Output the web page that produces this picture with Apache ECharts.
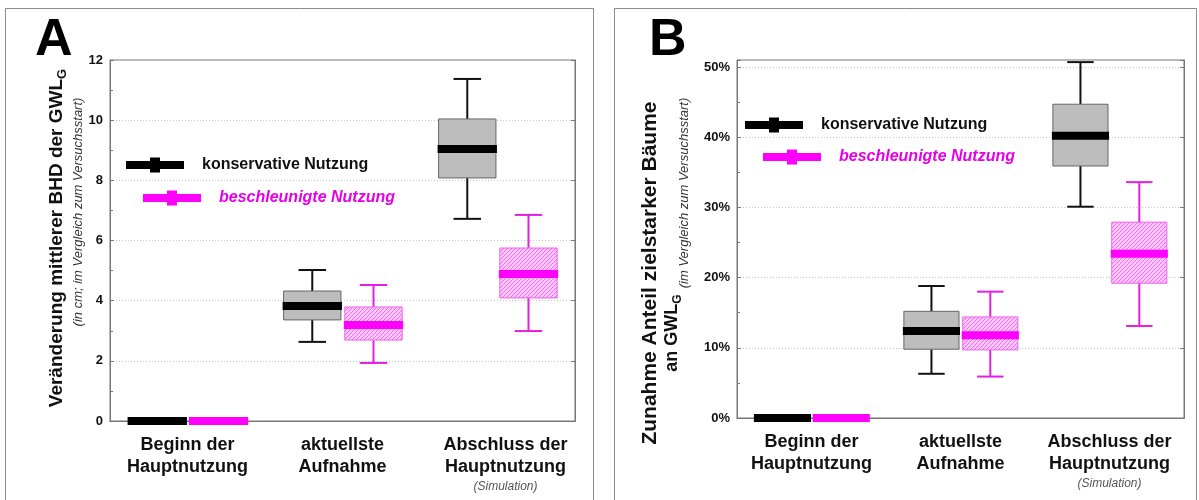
<!DOCTYPE html>
<html><head><meta charset="utf-8">
<script src="https://cdn.jsdelivr.net/npm/echarts@6/dist/echarts.min.js"></script>
<style>html,body{margin:0;padding:0;background:#fff}#c{width:1199px;height:500px}</style>
</head><body><div id="c"></div>
<script>
// ---------- data ----------
const categories = ['Beginn der\nHauptnutzung', 'aktuellste\nAufnahme', 'Abschluss der\nHauptnutzung\n{sim|(Simulation)}'];
const seriesNames = ['konservative Nutzung', 'beschleunigte Nutzung'];
// each entry: [min, Q1, median, Q3, max]
const bhdKonservativ   = [[0,0,0,0,0],[2.63,3.36,3.82,4.32,5.02],[6.72,8.08,9.04,10.04,11.37]];
const bhdBeschleunigt  = [[0,0,0,0,0],[1.93,2.69,3.19,3.79,4.52],[2.99,4.09,4.89,5.75,6.85]];
const anteilKonservativ  = [[0,0,0,0,0],[6.3,9.8,12.4,15.2,18.8],[30.1,35.9,40.2,44.7,50.7]];
const anteilBeschleunigt = [[0,0,0,0,0],[5.9,9.7,11.8,14.4,18.0],[13.1,19.2,23.4,27.9,33.6]];
const bhdTicks = [0, 2, 4, 6, 8, 10, 12];
const anteilTicks = [0, 10, 20, 30, 40, 50];
const anteilMax = 51;

// ---------- styles ----------
const FONT = '"Liberation Sans", Arial, sans-serif';
const MAG = '#ff00ff';
function hatchCanvas() {
  const c = document.createElement('canvas');
  c.width = 4; c.height = 4;
  const g = c.getContext('2d');
  g.fillStyle = '#fbc6f8'; g.fillRect(0, 0, 4, 4);
  g.strokeStyle = '#ee70ee'; g.lineWidth = 1;
  g.beginPath();
  g.moveTo(0, 4); g.lineTo(4, 0);
  g.moveTo(-1, 1); g.lineTo(1, -1);
  g.moveTo(3, 5); g.lineTo(5, 3);
  g.stroke();
  return c;
}
const hatch = { image: hatchCanvas(), repeat: 'repeat' };
const styles = [
  { off: -0.195, whisker: '#111', boxFill: '#bdbdbd', boxStroke: '#666', median: '#000' },
  { off: 0.2, whisker: '#e21fe2', boxFill: hatch, boxStroke: '#f060f0', median: MAG }
];

function makeRender(st) {
  return function (params, api) {
    const cat = api.value(0);
    const band = api.size([1, 0])[0];
    const xc = api.coord([cat, 0])[0] + st.off * band;
    const w = band * 0.37;
    const y = i => api.coord([cat, api.value(i)])[1];
    const yMin = y(1), yQ1 = y(2), yMed = y(3), yQ3 = y(4), yMax = y(5);
    const cap = w * 0.48;
    const ls = { stroke: st.whisker, lineWidth: 2 };
    const ch = [];
    if (Math.abs(yMax - yMin) > 0.5) {
      ch.push({ type: 'line', shape: { x1: xc, y1: yQ3, x2: xc, y2: yMax }, style: ls });
      ch.push({ type: 'line', shape: { x1: xc, y1: yQ1, x2: xc, y2: yMin }, style: ls });
      ch.push({ type: 'line', shape: { x1: xc - cap / 2, y1: yMax, x2: xc + cap / 2, y2: yMax }, style: ls });
      ch.push({ type: 'line', shape: { x1: xc - cap / 2, y1: yMin, x2: xc + cap / 2, y2: yMin }, style: ls });
      ch.push({ type: 'rect', shape: { x: xc - w / 2, y: yQ3, width: w, height: yQ1 - yQ3 },
        style: { fill: st.boxFill, stroke: st.boxStroke, lineWidth: 1 } });
    }
    ch.push({ type: 'rect', shape: { x: xc - w / 2 - 1, y: yMed - 4, width: w + 2, height: 8 },
      style: { fill: st.median } });
    return { type: 'group', children: ch };
  };
}

function seriesFor(name, st, boxes, xi, yi) {
  return {
    type: 'custom', name: name, xAxisIndex: xi, yAxisIndex: yi,
    itemStyle: { color: st.median },
    renderItem: makeRender(st),
    encode: { x: 0, y: [1, 2, 3, 4, 5] },
    data: boxes.map((b, i) => [i].concat(b)),
    z: 5
  };
}

const axisColor = '#777';
function xAxes(gi, lastShift) {
  const cats = categories.map((c, i) => (i === categories.length - 1 && lastShift)
    ? { value: c, textStyle: { padding: [0, 0, 0, lastShift] } } : c);
  return [
    { type: 'category', gridIndex: gi, data: cats, position: 'bottom',
      axisLine: { lineStyle: { color: axisColor } },
      axisTick: { alignWithLabel: true, inside: true, length: 4, lineStyle: { color: axisColor } },
      axisLabel: { interval: 0, margin: 13, color: '#111', fontFamily: FONT, fontWeight: 'bold', fontSize: 18, lineHeight: 22,
        rich: { sim: { fontSize: 12, fontStyle: 'italic', fontWeight: 'normal', color: '#555', lineHeight: 18, fontFamily: FONT } } } },
    { type: 'category', gridIndex: gi, data: categories, position: 'top',
      axisLine: { lineStyle: { color: axisColor } },
      axisTick: { alignWithLabel: true, inside: true, length: 3, lineStyle: { color: axisColor } },
      axisLabel: { show: false } }
  ];
}
function yAxes(gi, ticks, max, fmt) {
  const interval = ticks[1] - ticks[0];
  return [
    { type: 'value', gridIndex: gi, min: ticks[0], max: max, interval: interval, position: 'left',
      axisLine: { show: true, lineStyle: { color: axisColor } },
      axisTick: { show: true, inside: true, length: 4, lineStyle: { color: axisColor } },
      minorTick: { show: true, splitNumber: 2, length: 3, lineStyle: { color: axisColor } },
      splitLine: { show: true, lineStyle: { color: '#c4c4c4', type: [1, 2], width: 1 } },
      axisLabel: { margin: 7, color: '#111', fontFamily: FONT, fontWeight: 'bold', fontSize: 13,
        formatter: v => ticks.indexOf(v) >= 0 ? fmt(v) : '' } },
    { type: 'value', gridIndex: gi, min: ticks[0], max: max, interval: interval, position: 'right',
      axisLine: { show: true, lineStyle: { color: axisColor } },
      axisTick: { show: true, inside: true, length: 4, lineStyle: { color: axisColor } },
      splitLine: { show: false }, axisLabel: { show: false } }
  ];
}

const iconPath = 'path://M0,3.5h58v8h-58z M24,0h10v15h-10z';
function legendAt(left, top, name, textStyle) {
  return { left: left, top: top, padding: 0, itemWidth: 58, itemHeight: 15, selectedMode: false,
    data: [{ name: name, icon: iconPath }],
    textStyle: Object.assign({ fontFamily: FONT, fontSize: 16, fontWeight: 'bold', padding: [0, 0, 0, 13] }, textStyle) };
}
const legConsText = { color: '#111' };
const legAccText = { color: '#e600e6', fontStyle: 'italic' };
const subRich = { m: { fontFamily: FONT, fontSize: 19, fontWeight: 'bold', fill: '#111', lineHeight: 24 },
                  s: { fontFamily: FONT, fontSize: 13, fontWeight: 'bold', fill: '#111', verticalAlign: 'bottom', lineHeight: 24 } };

const chart = echarts.init(document.getElementById('c'), null, { renderer: 'canvas' });
chart.setOption({
  backgroundColor: '#fff',
  animation: false,
  grid: [
    { left: 110, right: 624, top: 60, bottom: 79, show: true, borderColor: axisColor, borderWidth: 1 },
    { left: 737, right: 15, top: 60, bottom: 82, show: true, borderColor: axisColor, borderWidth: 1 }
  ],
  xAxis: xAxes(0, 16).concat(xAxes(1, 0)),
  yAxis: yAxes(0, bhdTicks, bhdTicks[bhdTicks.length - 1], v => String(v))
    .concat(yAxes(1, anteilTicks, anteilMax, v => v + '%')),
  legend: [
    legendAt(126, 157, seriesNames[0], legConsText),
    legendAt(143, 190, seriesNames[1], legAccText),
    legendAt(745, 117, seriesNames[0], legConsText),
    legendAt(763, 149, seriesNames[1], legAccText)
  ],
  series: [
    seriesFor(seriesNames[0], styles[0], bhdKonservativ, 0, 0),
    seriesFor(seriesNames[1], styles[1], bhdBeschleunigt, 0, 0),
    seriesFor(seriesNames[0], styles[0], anteilKonservativ, 2, 2),
    seriesFor(seriesNames[1], styles[1], anteilBeschleunigt, 2, 2)
  ],
  graphic: [
    { type: 'rect', shape: { x: 5.5, y: 8.5, width: 588, height: 520 }, style: { fill: null, stroke: '#8a8a8a', lineWidth: 1 }, silent: true },
    { type: 'rect', shape: { x: 614.5, y: 8.5, width: 582, height: 520 }, style: { fill: null, stroke: '#8a8a8a', lineWidth: 1 }, silent: true },
    { type: 'text', x: 35, y: 41, style: { text: 'A', font: 'bold 52px ' + FONT, fill: '#000', verticalAlign: 'middle', align: 'left' } },
    { type: 'text', x: 649, y: 41, style: { text: 'B', font: 'bold 52px ' + FONT, fill: '#000', verticalAlign: 'middle', align: 'left' } },
    { type: 'text', x: 57, y: 238, rotation: Math.PI / 2,
      style: { text: '{m|Veränderung mittlerer BHD der GWL}{s|G}', align: 'center', verticalAlign: 'middle', rich: subRich } },
    { type: 'text', x: 78, y: 212, rotation: Math.PI / 2,
      style: { text: '(in cm; im Vergleich zum Versuchsstart)', align: 'center', verticalAlign: 'middle',
        font: 'italic 13px ' + FONT, fill: '#333' } },
    { type: 'text', x: 650, y: 273, rotation: Math.PI / 2,
      style: { text: 'Zunahme Anteil zielstarker Bäume', align: 'center', verticalAlign: 'middle',
        font: 'bold 21px ' + FONT, fill: '#111' } },
    { type: 'text', x: 672, y: 333, rotation: Math.PI / 2,
      style: { text: '{m|an GWL}{s|G}', align: 'center', verticalAlign: 'middle',
        rich: { m: Object.assign({}, subRich.m, { fontSize: 18 }), s: Object.assign({}, subRich.s, { fontSize: 12 }) } } },
    { type: 'text', x: 684, y: 193, rotation: Math.PI / 2,
      style: { text: '(im Vergleich zum Versuchsstart)', align: 'center', verticalAlign: 'middle',
        font: 'italic 13px ' + FONT, fill: '#333' } }
  ]
});
</script>
</body></html>
